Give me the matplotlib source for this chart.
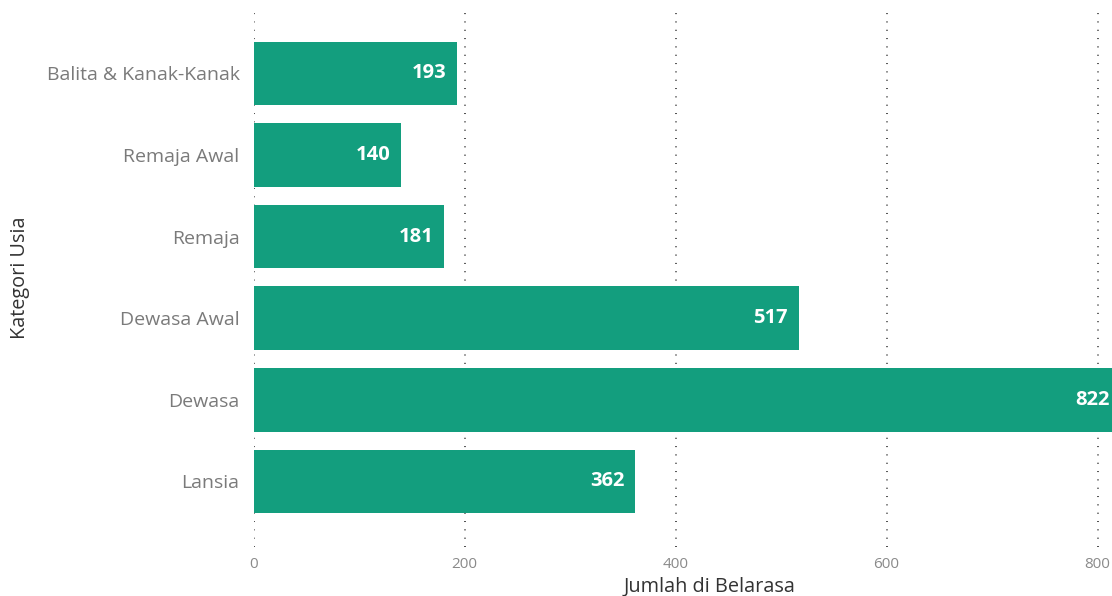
import matplotlib
matplotlib.use("Agg")
import matplotlib.pyplot as plt

categories = ["Balita & Kanak-Kanak", "Remaja Awal", "Remaja", "Dewasa Awal", "Dewasa", "Lansia"]
counts = [193, 140, 181, 517, 822, 362]
xticks = [0, 200, 400, 600, 800]

plt.rcParams["font.family"] = ["Open Sans", "DejaVu Sans"]

W, H = 1112, 596
fig = plt.figure(figsize=(W / 100, H / 100), dpi=100)
left, right, top, bottom = 253.5, 1112, 13, 547
ax = fig.add_axes([left / W, 1 - bottom / H, (right - left) / W, (bottom - top) / H])

bar_color = "#139E7E"
ypos = list(range(len(categories)))
ax.barh(ypos, counts, height=0.78, color=bar_color, zorder=2)

ax.set_xlim(0, (right - left) / 1.055)
ax.set_ylim(5.805, -0.74)

ax.set_xticks(xticks)
ax.set_xticklabels([str(t) for t in xticks])
ax.set_yticks(ypos)
ax.set_yticklabels(categories)

ax.tick_params(axis="x", length=0, pad=7, labelsize=11, labelcolor="#8a8a8a")
ax.tick_params(axis="y", length=0, pad=10, labelsize=14, labelcolor="#7a7a7a")

for s in ax.spines.values():
    s.set_visible(False)

ax.grid(axis="x", color="#1a1a1a", linewidth=1.1, linestyle=(0, (0.65, 4.8)), zorder=1)
ax.grid(axis="y", visible=False)

for y, v in zip(ypos, counts):
    ax.annotate(str(v), xy=(v, y), xytext=(-8, 0), textcoords="offset points",
                ha="right", va="center", color="white", fontsize=14.5, fontweight="bold",
                annotation_clip=False, zorder=3)

ax.set_xlabel("Jumlah di Belarasa", fontsize=14.3, color="#333333", va="center")
ax.xaxis.set_label_coords((710 - left) / (right - left), -(587 - bottom) / (bottom - top))
ax.set_ylabel("Kategori Usia", fontsize=14.3, color="#333333", va="center")
ax.yaxis.set_label_coords(-(left - 20) / (right - left), (bottom - 278) / (bottom - top))

fig.savefig("out.png", dpi=100)
